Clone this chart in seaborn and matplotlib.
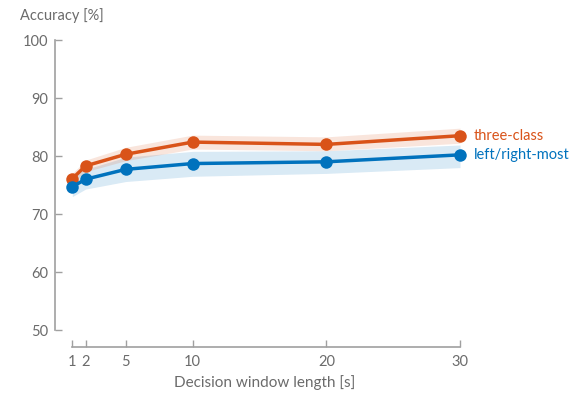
import matplotlib
matplotlib.use("Agg")
import matplotlib.pyplot as plt
import seaborn as sns
import pandas as pd

# Decision window lengths [s]
window = [1, 2, 5, 10, 20, 30]

# three-class accuracy and band
three_mean = [76.1, 78.3, 80.3, 82.4, 82.0, 83.5]
three_low = [75.4, 77.3, 79.2, 81.2, 80.9, 82.2]
three_high = [77.0, 79.3, 81.5, 83.6, 83.3, 84.8]

# left/right-most accuracy and band
lr_mean = [74.7, 76.0, 77.7, 78.7, 79.0, 80.2]
lr_low = [73.0, 74.3, 75.6, 76.5, 77.0, 78.0]
lr_high = [76.5, 77.7, 79.8, 80.8, 80.9, 81.9]

series_names = ["three-class", "left/right-most"]
colors = {"three-class": "#D95319", "left/right-most": "#0072BD"}
gray = "#6b6b6b"

sns.set_style("white")
plt.rcParams["font.family"] = ["Lato", "DejaVu Sans"]

df = pd.DataFrame({
    "window": window * 2,
    "acc": three_mean + lr_mean,
    "series": [series_names[0]] * len(window) + [series_names[1]] * len(window),
})

fig = plt.figure(figsize=(5.77, 3.94), dpi=100)
ax = fig.add_axes([55 / 577, 47 / 394, 418.4 / 577, 312.8 / 394])

# shaded bands first, lines on top
ax.fill_between(window, lr_low, lr_high, color=colors["left/right-most"], alpha=0.15, lw=0)
ax.fill_between(window, three_low, three_high, color=colors["three-class"], alpha=0.15, lw=0)

sns.lineplot(data=df, x="window", y="acc", hue="series", palette=colors,
             marker="o", markersize=9, markeredgewidth=0, linewidth=2.5,
             legend=False, ax=ax)

ax.set_xlim(-0.294, 31)
ax.set_ylim(47.07, 101)
ax.set_xticks(window)
ax.set_yticks([50, 60, 70, 80, 90, 100])

for side in ["top", "right"]:
    ax.spines[side].set_visible(False)
ax.spines["left"].set_bounds(50, 100)
ax.spines["bottom"].set_bounds(1, 30)
for side in ["left", "bottom"]:
    ax.spines[side].set_color("#a0a0a0")
    ax.spines[side].set_linewidth(1.2)

ax.tick_params(axis="both", direction="in", length=5, width=1.0,
               left=True, bottom=True,
               color="#a0a0a0", labelcolor=gray, labelsize=10.5, pad=5)
ax.tick_params(axis="x", pad=6)

ax.set_xlabel("Decision window length [s]", color=gray, fontsize=11, labelpad=4)
ax.set_ylabel("")
fig.text(20 / 577, 1 - 16 / 394, "Accuracy [%]", color=gray, fontsize=10.5,
         ha="left", va="center")

# end-of-line labels
ax.text(31.0, three_mean[-1], "three-class", color=colors["three-class"],
        fontsize=10.5, va="center", ha="left")
ax.text(31.0, lr_mean[-1], "left/right-most", color=colors["left/right-most"],
        fontsize=10.5, va="center", ha="left")

fig.savefig("out.png", dpi=100)
